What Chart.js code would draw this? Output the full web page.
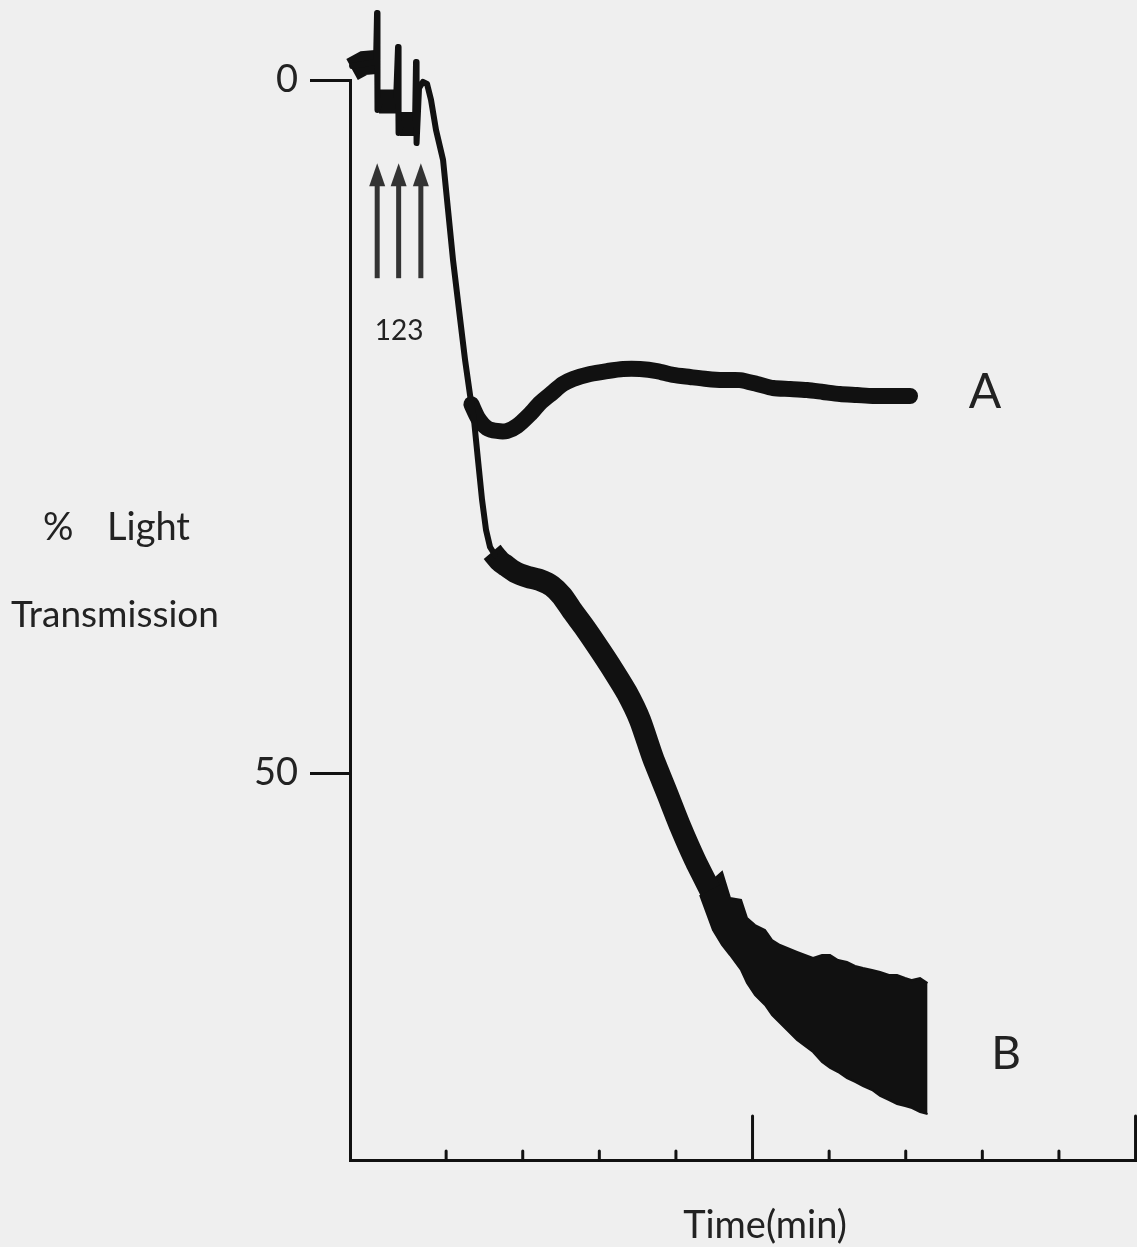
<!DOCTYPE html>
<html>
<head>
<meta charset="utf-8">
<script src="https://cdn.jsdelivr.net/npm/chart.js@4.4.0/dist/chart.umd.min.js"></script>
<style>
html,body{margin:0;padding:0;background:#efefef;}
#wrap{width:1137px;height:1247px;position:relative;}
canvas{display:block;}
</style>
</head>
<body>
<div id="wrap"><canvas id="c" width="1137" height="1247"></canvas></div>
<script>
// ---- axis ticks ----
const yTickValues = [0, 50];
const yTickLabels = ['0', '50'];
const xTickValues = [1, 2, 3, 4, 5, 6, 7, 8, 9, 10];

// ---- additions (arrows 1,2,3), time in min ----
const additionTimes = [0.10, 0.38, 0.67];
const additionLabel = '123';

// ---- common trace before the split (time, % light transmission) ----
const traceTime  = [-0.228, 0.085, 0.098, 0.104, 0.137, 0.346, 0.372, 0.379, 0.411, 0.594, 0.607, 0.614, 0.646, 0.698, 0.751, 0.803, 0.868, 0.960, 1.025, 1.090, 1.168, 1.247, 1.312, 1.364, 1.416, 1.469, 1.521, 1.573, 1.638];
const traceValue = [-1.01, -1.30, -4.83, 2.16, 1.52, 1.52, -2.38, 3.82, 3.17, 3.17, -1.30, 4.55, 0.58, 0.14, 0.29, 1.44, 3.61, 5.77, 9.38, 12.99, 16.59, 20.20, 22.73, 24.53, 27.42, 30.30, 32.47, 33.69, 34.27];

// ---- noisy baseline levels before / between additions ----
const noiseTime  = [-0.228, -0.072, 0.085, 0.090, 0.124, 0.359, 0.370, 0.398, 0.607];
const noiseValue = [-0.76, -1.23, -1.30, null, 1.55, 1.55, null, 3.17, 3.17];

// ---- trace A ----
const aTime  = [1.330, 1.416, 1.534, 1.664, 1.795, 1.926, 2.095, 2.226, 2.382, 2.526, 2.657, 2.879, 3.101, 3.310, 3.531, 3.753, 3.962, 4.184, 4.406, 4.615, 4.837, 5.059, 5.268, 5.490, 5.712, 5.920, 6.142, 6.364, 6.573, 6.795, 7.056];
const aValue = [23.40, 24.39, 25.11, 25.32, 25.32, 24.96, 24.10, 23.30, 22.58, 21.93, 21.57, 21.21, 21.00, 20.85, 20.85, 21.00, 21.28, 21.43, 21.57, 21.65, 21.65, 21.93, 22.22, 22.29, 22.37, 22.51, 22.66, 22.73, 22.80, 22.80, 22.80];

// ---- trace B (centre line) ----
const bTime  = [1.600, 1.700, 1.769, 1.900, 2.069, 2.226, 2.382, 2.513, 2.657, 2.813, 3.009, 3.179, 3.362, 3.531, 3.701, 3.884, 4.054, 4.250, 4.446];
const bValue = [34.05, 34.70, 34.99, 35.50, 35.86, 36.08, 36.51, 37.23, 38.38, 39.54, 41.13, 42.57, 44.23, 46.18, 48.92, 51.44, 53.82, 56.28, 58.44];

// ---- trace B noisy end (upper / lower envelope) ----
const bandTime  = [4.315, 4.484, 4.602, 4.706, 4.850, 4.928, 5.033, 5.163, 5.255, 5.359, 5.581, 5.685, 5.790, 5.907, 6.012, 6.116, 6.233, 6.338, 6.442, 6.560, 6.665, 6.782, 6.887, 6.991, 7.082, 7.187, 7.285];
const bandUpper = [56.42, 57.72, 57.14, 59.02, 59.16, 60.46, 60.97, 61.33, 62.05, 62.41, 62.91, 63.13, 63.35, 63.13, 63.13, 63.49, 63.64, 63.92, 64.07, 64.21, 64.36, 64.57, 64.57, 64.79, 64.94, 64.79, 65.15];
const bandLower = [58.80, 61.33, 62.41, 63.13, 64.21, 65.15, 66.02, 66.74, 67.46, 68.04, 69.26, 69.70, 70.13, 70.85, 71.28, 71.57, 72.01, 72.29, 72.58, 72.87, 73.30, 73.59, 73.88, 74.03, 74.17, 74.46, 74.60];

const pts = (xs, ys) => xs.map((t, i) => ({x: t, y: ys[i]}));
const INK = '#111111';
const TEXT = '#222222';
const FONT = 'Lato';

const decor = {
  id: 'decor',
  afterDraw(chart) {
    const {ctx, chartArea: a, scales: {x, y}} = chart;
    ctx.save();
    // inward x ticks
    ctx.strokeStyle = INK; ctx.lineWidth = 3; ctx.lineCap = 'round';
    xTickValues.forEach(v => {
      const px = x.getPixelForValue(v);
      const len = (v % 5 === 0) ? 44 : 9;
      ctx.beginPath(); ctx.moveTo(px, a.bottom); ctx.lineTo(px, a.bottom - len); ctx.stroke();
    });
    // addition arrows
    ctx.fillStyle = '#333'; ctx.strokeStyle = '#333'; ctx.lineWidth = 5; ctx.lineCap = 'butt';
    additionTimes.forEach(t => {
      const px = x.getPixelForValue(t);
      const tip = y.getPixelForValue(6);
      const tail = y.getPixelForValue(14.3);
      ctx.beginPath(); ctx.moveTo(px, tail); ctx.lineTo(px, tip + 18); ctx.stroke();
      ctx.beginPath(); ctx.moveTo(px, tip); ctx.lineTo(px - 8, tip + 23); ctx.lineTo(px + 8, tip + 23); ctx.closePath(); ctx.fill();
    });
    // texts
    ctx.fillStyle = TEXT; ctx.textBaseline = 'alphabetic';
    const mid = (additionTimes[0] + additionTimes[additionTimes.length - 1]) / 2;
    ctx.textAlign = 'center';
    ctx.font = `28px ${FONT}`;
    ctx.fillText(additionLabel, x.getPixelForValue(mid), 340);
    ctx.font = `38px ${FONT}`;
    ctx.textAlign = 'left';
    ctx.fillText('%', 43, 540);
    ctx.fillText('Light', 107, 540);
    ctx.textAlign = 'center';
    ctx.font = `37px ${FONT}`;
    ctx.fillText('Transmission', 115, 627);
    ctx.font = `38px ${FONT}`;
    ctx.fillText('Time(min)', 765, 1238);
    ctx.font = `48px ${FONT}`;
    ctx.fillText('A', 985, 408);
    ctx.font = `46px ${FONT}`;
    ctx.fillText('B', 1006, 1069);
    ctx.restore();
  }
};

new Chart(document.getElementById('c').getContext('2d'), {
  type: 'line',
  data: {
    datasets: [
      {label: 'trace', data: pts(traceTime, traceValue), borderColor: INK, borderWidth: 6, pointRadius: 0, tension: 0, clip: false, borderJoinStyle: 'round', borderCapStyle: 'round', fill: false},
      {label: 'baseline noise', data: pts(noiseTime, noiseValue), borderColor: INK, borderWidth: 24, pointRadius: 0, tension: 0, clip: false, spanGaps: false, borderCapStyle: 'butt', fill: false},
      {label: 'A', data: pts(aTime, aValue), borderColor: INK, borderWidth: 16, pointRadius: 0, tension: 0.25, borderJoinStyle: 'round', borderCapStyle: 'round', fill: false},
      {label: 'B', data: pts(bTime, bValue), borderColor: INK, borderWidth: 22, pointRadius: 0, tension: 0.2, borderJoinStyle: 'round', borderCapStyle: 'butt', fill: false},
      {label: 'B upper', data: pts(bandTime, bandUpper), borderColor: INK, borderWidth: 2, pointRadius: 0, tension: 0, fill: false},
      {label: 'B lower', data: pts(bandTime, bandLower), borderColor: INK, borderWidth: 2, pointRadius: 0, tension: 0, fill: '-1', backgroundColor: INK}
    ]
  },
  options: {
    responsive: false,
    animation: false,
    devicePixelRatio: 1,
    layout: {padding: {top: 80, right: 1, bottom: 0, left: 0}},
    plugins: {legend: {display: false}, tooltip: {enabled: false}},
    scales: {
      x: {
        type: 'linear', min: -0.255, max: 10.006,
        afterFit(s) { s.height = 87; },
        afterBuildTicks(s) { s.ticks = xTickValues.map(v => ({value: v})); },
        ticks: {display: false},
        grid: {drawOnChartArea: false, drawTicks: false},
        border: {color: INK, width: 3}
      },
      y: {
        type: 'linear', reverse: true, min: 0, max: 77.92,
        afterFit(s) { s.width = 350; },
        afterBuildTicks(s) { s.ticks = yTickValues.map(v => ({value: v})); },
        ticks: {callback: (v, i) => yTickLabels[i], font: {family: FONT, size: 38}, color: TEXT, padding: 12},
        grid: {drawOnChartArea: false, drawTicks: true, tickLength: 40, color: INK, lineWidth: 3},
        border: {color: INK, width: 3}
      }
    }
  },
  plugins: [decor]
});
</script>
</body>
</html>
